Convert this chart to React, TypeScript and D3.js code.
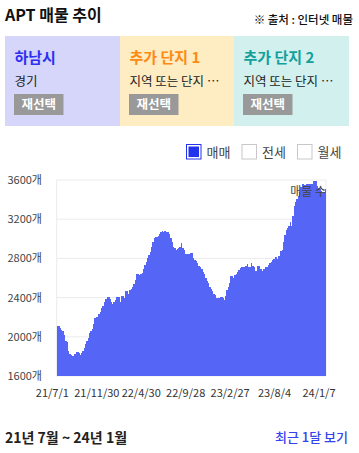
import React from "react";
import * as d3 from "d3";

const listings: number[] = [
  2110, 2110, 2090, 2070, 2060, 2018, 1960, 1943, 1851, 1827,
  1810, 1804, 1804, 1824, 1845, 1845, 1830, 1814, 1834, 1855,
  1889, 1930, 1957, 1984, 2042, 2062, 2076, 2127, 2188, 2199,
  2199, 2229, 2256, 2290, 2314, 2352, 2385, 2409, 2409, 2385,
  2352, 2334, 2352, 2372, 2409, 2409, 2409, 2358, 2416, 2416,
  2399, 2467, 2467, 2440, 2477, 2491, 2505, 2535, 2576, 2637,
  2644, 2630, 2644, 2654, 2691, 2732, 2766, 2800, 2834, 2868,
  2919, 2963, 3004, 3018, 3018, 3030, 3045, 3065, 3079, 3072,
  3079, 3072, 3072, 3045, 3011, 2963, 2919, 2902, 2888, 2895,
  2902, 2916, 2953, 2909, 2882, 2847, 2847, 2847, 2841, 2855,
  2855, 2800, 2786, 2770, 2749, 2725, 2708, 2691, 2664, 2637,
  2603, 2572, 2545, 2511, 2484, 2467, 2436, 2426, 2392, 2392,
  2392, 2402, 2402, 2392, 2375, 2419, 2474, 2511, 2545, 2623,
  2623, 2596, 2630, 2640, 2664, 2681, 2698, 2708, 2715, 2715,
  2725, 2742, 2715, 2715, 2749, 2722, 2712, 2671, 2671, 2722,
  2722, 2688, 2671, 2695, 2695, 2712, 2715, 2729, 2749, 2763,
  2783, 2790, 2814, 2797, 2824, 2824, 2875, 2885, 2967, 3035,
  3089, 3113, 3130, 3171, 3130, 3232, 3334, 3375, 3408, 3436,
  3477, 3531, 3558, 3545, 3545, 3562, 3562, 3562, 3562, 3555,
  3592, 3592, 3585, 3538, 3518, 3504, 3487, 3463, 3477, 3504,
];

const xTickIndex: number[] = [0, 33, 66, 99, 132, 165, 198];
const xTickLabels: string[] = ["21/7/1", "21/11/30", "22/4/30", "22/9/28", "23/2/27", "23/8/4", "24/1/7"];
const yTicks: number[] = [1600, 2000, 2400, 2800, 3200, 3600];

const panelTitles: string[] = ["하남시", "추가 단지 1", "추가 단지 2"];
const panelSubs: string[] = ["경기", "지역 또는 단지 …", "지역 또는 단지 …"];
const panelBg: string[] = ["#d6d6fb", "#feecc2", "#d2f0ee"];
const panelFg: string[] = ["#2f2ff2", "#ff8a12", "#12a09c"];

const legendItems: string[] = ["매매", "전세", "월세"];
const legendChecked: boolean[] = [true, false, false];

const FONT = "'Noto Sans CJK KR', 'Noto Sans', sans-serif";

export default function App() {
  const W = 359;
  const H = 453;
  const left = 56.7;
  const right = 326;
  const top = 180;
  const bottom = 376;

  const x = d3
    .scaleBand<number>()
    .domain(listings.map((_, i) => i))
    .range([left, right])
    .padding(0);
  const y = d3.scaleLinear().domain([1600, 3600]).range([bottom, top]);
  const bw = x.bandwidth();

  const panelX = [5, 120, 234];
  const panelW = [115, 114, 115];

  return (
    <svg
      width={W}
      height={H}
      style={{ position: "absolute", left: 0, top: 0, background: "#fff" }}
      fontFamily={FONT}
    >
      {/* header */}
      <text x={5} y={21} fontSize={16} fontWeight={700} fill="#111">
        APT 매물 추이
      </text>
      <text x={353} y={24} fontSize={11.5} fontWeight={500} fill="#111" textAnchor="end">
        ※ 출처 : 인터넷 매물
      </text>

      {/* panels */}
      {panelTitles.map((t, i) => (
        <g key={t}>
          <rect x={panelX[i]} y={36} width={panelW[i]} height={90} fill={panelBg[i]} />
          <text x={panelX[i] + 9.5} y={63} fontSize={15} fontWeight={700} fill={panelFg[i]}>
            {t}
          </text>
          <text x={panelX[i] + 9.5} y={86} fontSize={12.5} fill="#222">
            {panelSubs[i]}
          </text>
          <rect x={panelX[i] + 9} y={94} width={49.5} height={21} fill="#999" />
          <text
            x={panelX[i] + 33.75}
            y={109}
            fontSize={12.5}
            fontWeight={700}
            fill="#fff"
            textAnchor="middle"
          >
            재선택
          </text>
        </g>
      ))}

      {/* legend */}
      {legendItems.map((t, i) => {
        const bx = 186.5 + i * 55.5;
        return (
          <g key={t}>
            <rect
              x={bx}
              y={144.5}
              width={14.5}
              height={14.5}
              fill="#fff"
              stroke={legendChecked[i] ? "#2233ee" : "#c8c8cc"}
              strokeWidth={1}
            />
            {legendChecked[i] && (
              <rect x={bx + 2} y={146.5} width={10.5} height={10.5} fill="#2233ee" />
            )}
            <text x={bx + 20} y={157} fontSize={13} fill="#444">
              {t}
            </text>
          </g>
        );
      })}

      {/* grid */}
      {yTicks.map((v) => (
        <line key={v} x1={left} x2={right} y1={y(v)} y2={y(v)} stroke="#ebebeb" strokeWidth={1} />
      ))}
      <line x1={left} x2={left} y1={top} y2={bottom} stroke="#ebebeb" strokeWidth={1} />
      <line x1={right} x2={right} y1={top} y2={bottom} stroke="#ebebeb" strokeWidth={1} />

      {/* bars */}
      <g fill="#5566f6">
        {listings.map((v, i) => (
          <rect
            key={i}
            x={x(i)!}
            y={y(v)}
            width={bw + 0.4}
            height={Math.max(0, y(1600) - y(v))}
            shapeRendering="crispEdges"
          />
        ))}
      </g>

      <text x={326} y={196} fontSize={12} fill="#444" textAnchor="end">
        매물 수
      </text>

      {/* y axis labels */}
      {yTicks.map((v) => (
        <text
          key={v}
          x={42}
          y={y(v) + 4}
          fontSize={11}
          fill="#444"
          textAnchor="end"
        >
          {`${v}개`}
        </text>
      ))}

      {/* x axis labels */}
      {xTickIndex.map((idx, k) => (
        <text
          key={idx}
          x={x(idx)! + bw / 2 - 5}
          y={397}
          fontSize={11}
          fill="#333"
          textAnchor="middle"
        >
          {xTickLabels[k]}
        </text>
      ))}

      {/* footer */}
      <text x={5} y={443} fontSize={14} fontWeight={700} fill="#222">
        21년 7월 ~ 24년 1월
      </text>
      <text x={348} y={442} fontSize={13} fontWeight={500} fill="#3344ee" textAnchor="end">
        최근 1달 보기
      </text>
    </svg>
  );
}
